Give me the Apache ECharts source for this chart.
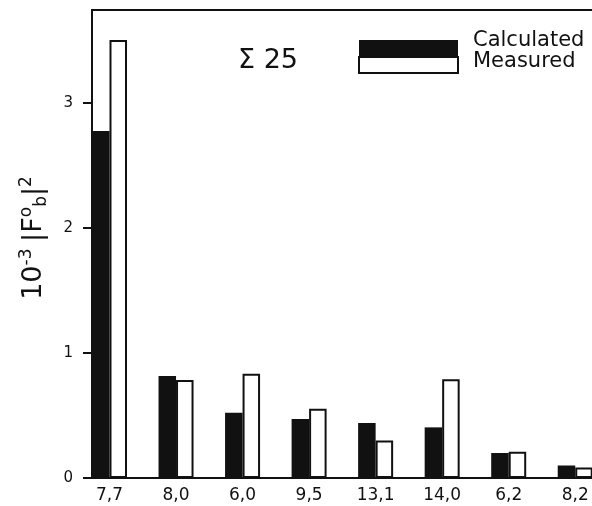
<!DOCTYPE html>
<html>
<head>
<meta charset="utf-8">
<script src="https://cdn.jsdelivr.net/npm/echarts@6/dist/echarts.min.js"></script>
<style>
html,body{margin:0;padding:0;background:#fff;}
#chart{width:592px;height:506px;}
</style>
</head>
<body>
<div id="chart"></div>
<script>
const categories = ['7,7', '8,0', '6,0', '9,5', '13,1', '14,0', '6,2', '8,2'];
const calculated = [2.776, 0.816, 0.522, 0.472, 0.44, 0.405, 0.20, 0.10];
const measured = [3.504, 0.784, 0.834, 0.555, 0.30, 0.79, 0.21, 0.085];
const yTicks = [0, 1, 2, 3];
const seriesNames = ['Calculated', 'Measured'];
const titleText = 'Σ 25';

const FONT = '"DejaVu Sans", sans-serif';
const idx = categories.map((c, i) => i);

const chart = echarts.init(document.getElementById('chart'), null, {renderer: 'canvas'});
chart.setOption({
  backgroundColor: '#fff',
  animation: false,
  title: {
    text: titleText,
    left: 233, top: 42,
    textStyle: {fontFamily: FONT, fontSize: 27, fontWeight: 'normal', color: '#111'}
  },
  legend: {
    data: seriesNames,
    formatter: name => (name === seriesNames[0] ? '{c|' : '{m|') + name + '}',
    orient: 'vertical',
    left: 358, top: 30,
    itemWidth: 99, itemHeight: 16, itemGap: -15,
    padding: 0,
    icon: 'rect',
    selectedMode: false,
    textStyle: {
      fontFamily: FONT, fontSize: 21, color: '#111',
      rich: {
        c: {fontFamily: FONT, fontSize: 21, lineHeight: 20, color: '#111', padding: [0, 0, 15, 10]},
        m: {fontFamily: FONT, fontSize: 21, lineHeight: 20, color: '#111', padding: [0, 0, 7, 10]}
      }
    }
  },
  grid: {
    left: 92, top: 10, width: 516.5, height: 468,
    outerBoundsMode: 'none',
    containLabel: false,
    show: true, borderColor: '#111', borderWidth: 2, backgroundColor: '#fff'
  },
  xAxis: {
    type: 'value',
    min: -0.263, max: 7.5,
    axisLine: {show: true, onZero: false, lineStyle: {color: '#111', width: 2}},
    axisTick: {show: false},
    splitLine: {show: false},
    axisLabel: {
      customValues: idx,
      formatter: v => categories[Math.round(v)] || '',
      fontFamily: FONT, fontSize: 17, color: '#111', margin: 9
    }
  },
  yAxis: {
    type: 'value',
    min: 0, max: 3.744,
    name: '{a|10}{s|-3}  {a||F}{s|o}{b|b}{a||}{s|2}',
    nameLocation: 'middle',
    nameRotate: 90,
    nameGap: 42,
    nameTextStyle: {
      color: '#111',
      padding: [0, 0, 0, 12],
      rich: {
        a: {fontFamily: FONT, fontSize: 27, lineHeight: 32, color: '#111'},
        s: {fontFamily: FONT, fontSize: 17, color: '#111', verticalAlign: 'top', lineHeight: 17},
        b: {fontFamily: FONT, fontSize: 17, color: '#111', verticalAlign: 'bottom', lineHeight: 17}
      }
    },
    axisLine: {show: true, onZero: false, lineStyle: {color: '#111', width: 2}},
    axisTick: {show: true, customValues: yTicks, length: 9, lineStyle: {color: '#111', width: 2}},
    splitLine: {show: false},
    axisLabel: {
      customValues: yTicks,
      fontFamily: FONT, fontSize: 15, color: '#111', margin: 19
    }
  },
  series: [
    {
      name: seriesNames[0], type: 'bar',
      data: idx.map(i => [i, calculated[i]]),
      barWidth: 17.5, barGap: '0%',
      itemStyle: {color: '#111'}
    },
    {
      name: seriesNames[1], type: 'bar',
      data: idx.map(i => [i, measured[i]]),
      barWidth: 17.5, barGap: '0%',
      itemStyle: {color: '#fff', borderColor: '#111', borderWidth: 2}
    }
  ]
});
</script>
</body>
</html>
